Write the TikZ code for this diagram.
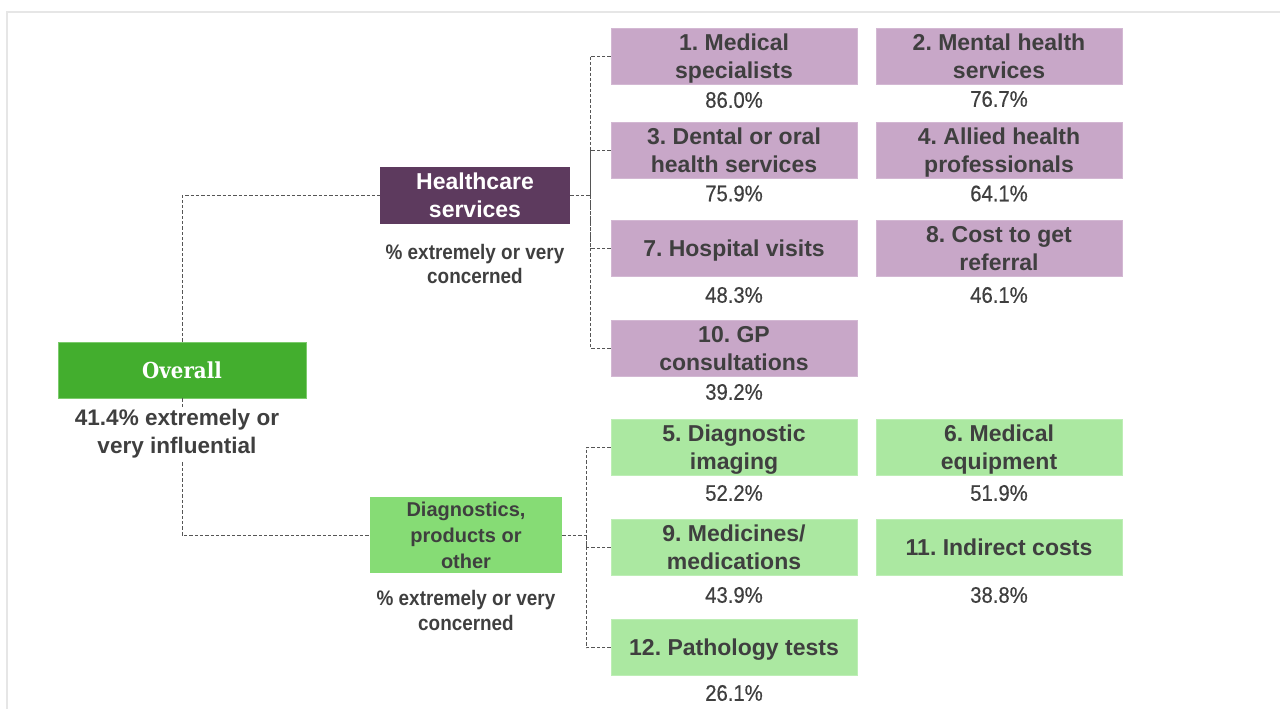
\documentclass[tikz,border=0pt]{standalone}
\usepackage{fontspec}
\setmainfont{Liberation Sans}
\newfontfamily\cond[FakeStretch=0.9,FakeBold=0.4]{Liberation Sans}
\newfontfamily\condb[FakeStretch=0.9]{Liberation Sans}
\newfontfamily\slab[FakeStretch=0.9]{DejaVu Serif}
\frenchspacing
\definecolor{txt}{HTML}{3F3F3F}
\definecolor{lpurple}{HTML}{C8A7C8}
\definecolor{lpurpleb}{HTML}{D3B8D3}
\definecolor{dpurple}{HTML}{5D3A5E}
\definecolor{ogreen}{HTML}{43AE2E}
\definecolor{ogreenb}{HTML}{7CCB6D}
\definecolor{dgreen}{HTML}{86DC75}
\definecolor{lgreen}{HTML}{ABE8A1}
\definecolor{lgreenb}{HTML}{BDEEB5}
\definecolor{connc}{HTML}{555555}
\definecolor{framec}{HTML}{E6E6E6}
\begin{document}
\begin{tikzpicture}[x=0.75pt,y=-0.75pt,
  box/.style={rectangle, inner sep=0pt, minimum width=184.5pt, minimum height=42pt},
  btxt/.style={inner sep=0pt, align=center, text=txt, yshift=-1.8pt,
    font=\frenchspacing\fontsize{17.25}{21}\selectfont\bfseries,
    execute at end node={\rule[-3.6pt]{0pt}{0pt}}},
  pbox/.style={box, fill=lpurple, draw=lpurpleb, line width=0.5pt, label={[btxt]center:#1}},
  gbox/.style={box, fill=lgreen, draw=lgreenb, line width=0.5pt, label={[btxt]center:#1}},
  pct/.style={text=txt, font=\cond\fontsize{16.9}{19}\selectfont, inner sep=0pt},
  note/.style={text=txt, align=center, inner sep=0pt, font=\condb\bfseries\fontsize{15.75}{18.5}\selectfont},
  conn/.style={draw=connc, line width=0.7pt, dash pattern=on 2.5pt off 1.5pt}
]
\useasboundingbox (0,0) rectangle (1280,709);
\draw[framec, line width=1.5pt] (7,709) -- (7,12) -- (1280,12);

% main nodes
\node[rectangle, fill=ogreen, draw=ogreenb, line width=0.7pt, minimum width=186pt, minimum height=42pt, inner sep=0pt, text=white, font=\slab\bfseries\fontsize{16.5}{20}\selectfont] (ov) at (182,370) {Overall};
\node[rectangle, fill=dpurple, minimum width=142.5pt, minimum height=42.75pt, inner sep=0pt, align=center, text=white, font=\bfseries\fontsize{17.25}{21}\selectfont] (hc) at (475,195.5) {Healthcare\\services};
\node[rectangle, fill=dgreen, minimum width=144pt, minimum height=57pt, inner sep=0pt, align=center, text=txt, font=\bfseries\fontsize{15}{19.5}\selectfont] (dg) at (466,535) {Diagnostics,\\products or\\other};

% connectors from Overall
\draw[conn] (ov.north) |- (hc.west);
\draw[conn] (ov.south) |- (dg.west);

\node[fill=white, inner sep=2pt, align=center, text=txt, font=\bfseries\fontsize{16.9}{21}\selectfont] (ovt) at (177,434) {41.4\% extremely or\\very influential};

\node[note] (hcn) at (475,264) {\% extremely or very\\concerned};
\node[note] (dgn) at (466,610.5) {\% extremely or very\\concerned};

% healthcare boxes
\node[pbox={1. Medical\\specialists}] (b1) at (734,56) {};
\node[pbox={2. Mental health\\services}] (b2) at (999,56) {};
\node[pbox={3. Dental or oral\\health services}] (b3) at (734,150) {};
\node[pbox={4. Allied health\\professionals}] (b4) at (999,150) {};
\node[pbox={7. Hospital visits}] (b7) at (734,248) {};
\node[pbox={8. Cost to get\\referral}] (b8) at (999,248) {};
\node[pbox={10. GP\\consultations}] (b10) at (734,348) {};

\node[pct] (p1) at (734,100) {86.0\%};
\node[pct] (p2) at (999,99) {76.7\%};
\node[pct] (p3) at (734,193.5) {75.9\%};
\node[pct] (p4) at (999,193.5) {64.1\%};
\node[pct] (p7) at (734,295) {48.3\%};
\node[pct] (p8) at (999,295) {46.1\%};
\node[pct] (p10) at (734,392) {39.2\%};

% diagnostics boxes
\node[gbox={5. Diagnostic\\imaging}] (b5) at (734,447.5) {};
\node[gbox={6. Medical\\equipment}] (b6) at (999,447.5) {};
\node[gbox={9. Medicines/\\medications}] (b9) at (734,547.5) {};
\node[gbox={11. Indirect costs}] (b11) at (999,547.5) {};
\node[gbox={12. Pathology tests}] (b12) at (734,647.5) {};

\node[pct] (p5) at (734,493) {52.2\%};
\node[pct] (p6) at (999,493) {51.9\%};
\node[pct] (p9) at (734,595) {43.9\%};
\node[pct] (p11) at (999,595) {38.8\%};
\node[pct] (p12) at (734,693) {26.1\%};

% brackets
\coordinate (hj) at (590,195.5);
\coordinate (dj) at (586,535);
\draw[conn] (hc.east) -- (hj);
\draw[conn] (b1.west) -| (hj);
\draw[conn] (b3.west) -| (hj);
\draw[conn] (b7.west) -| (hj);
\draw[conn] (b10.west) -| (hj);
\draw[conn] (dg.east) -- (dj);
\draw[conn] (b5.west) -| (dj);
\draw[conn] (b9.west) -| (dj);
\draw[conn] (b12.west) -| (dj);
\end{tikzpicture}
\end{document}
